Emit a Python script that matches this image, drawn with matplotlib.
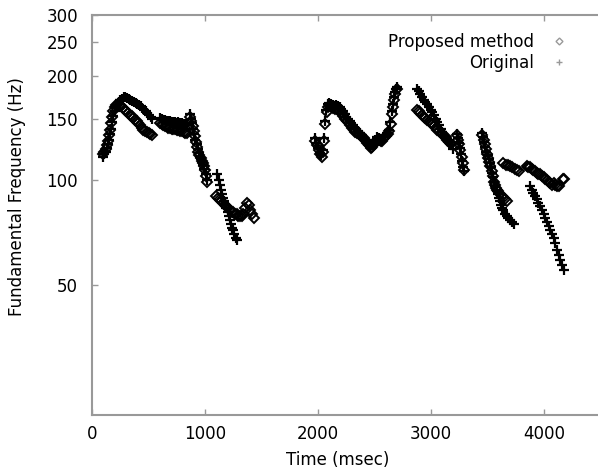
import matplotlib
matplotlib.use('Agg')
import matplotlib.pyplot as plt
from matplotlib.ticker import FixedLocator, NullLocator, FixedFormatter

# 原始 F0 轨迹 (Original, "+")
orig_time = [
    100, 110, 120, 130, 140, 150, 160, 170, 180, 190, 200, 210, 220, 235, 250, 265, 280, 295,
    310, 325, 340, 355, 370, 385, 400, 415, 430, 445, 460, 475, 490, 505, 520, 535,
    600, 615, 630, 645, 660, 675, 690, 705, 720, 735, 750, 765, 780, 795, 810, 825, 840,
    865, 875, 885, 895, 905, 915, 925, 935, 945, 955, 965, 975, 985, 995, 1005, 1015,
    1110, 1120, 1130, 1140, 1150, 1160, 1170, 1180, 1190, 1200, 1210, 1220, 1230, 1240,
    1250, 1260, 1270, 1280,
    1970, 1985, 2000, 2015, 2030, 2040, 2050, 2060, 2070, 2085, 2100, 2115, 2130, 2145,
    2160, 2175, 2190, 2205, 2220, 2235, 2250, 2265, 2280, 2295, 2310, 2325, 2340, 2355,
    2370, 2385, 2400, 2415, 2430, 2445, 2460, 2475, 2490, 2505, 2520, 2535, 2550, 2565,
    2580, 2595, 2610, 2625, 2640, 2650, 2660, 2670, 2680, 2690, 2700,
    2875, 2890, 2905, 2920, 2935, 2950, 2965, 2980, 2995, 3010, 3025, 3040, 3055, 3070,
    3085, 3100, 3115, 3130, 3145, 3160, 3175, 3190,
    3225, 3235, 3245, 3255, 3265, 3275, 3285, 3295,
    3450, 3460, 3470, 3480, 3490, 3500, 3510, 3520, 3530, 3540, 3550, 3560, 3570, 3580,
    3590, 3600, 3610, 3620, 3630, 3640, 3655, 3670, 3685, 3700, 3715, 3730,
    3875, 3890, 3905, 3920, 3935, 3950, 3965, 3980, 3995, 4010, 4025, 4040, 4055, 4070,
    4085, 4100, 4115, 4130, 4145, 4160, 4175,
]
orig_f0 = [
    117, 119, 121, 124, 127, 131, 136, 141, 147, 153, 158, 162, 165, 168, 171, 172, 174, 174,
    173, 172, 170, 169, 168, 167, 166, 165, 164, 162, 160, 158, 156, 154, 152, 150,
    151, 150, 149, 149, 148, 148, 148, 147, 147, 147, 146, 147, 146, 146, 145, 145, 144,
    155, 150, 146, 141, 136, 131, 127, 123, 120, 117, 115, 113, 111, 108, 104, 100,
    104, 100, 97, 94, 91, 89, 87, 85, 83, 81, 79, 77, 75, 73,
    72, 70, 68, 67,
    132, 128, 124, 120, 118, 122, 132, 148, 160, 166, 167, 166, 165, 164,
    165, 164, 163, 161, 158, 155, 152, 150, 148, 146, 144, 142, 141, 139,
    137, 135, 133, 131, 129, 127, 125, 126, 128, 131, 133, 132, 130, 131,
    133, 135, 137, 140, 147, 158, 166, 174, 180, 184, 186,
    184, 181, 177, 174, 171, 168, 166, 163, 160, 157, 154, 150, 147, 144,
    141, 138, 135, 133, 131, 129, 126, 123,
    136, 132, 128, 124, 119, 114, 109, 106,
    137, 133, 129, 125, 121, 118, 115, 112, 109, 105, 102, 99, 96, 93,
    91, 89, 87, 85, 83, 82, 80, 79, 78, 77, 76, 75,
    96, 94, 92, 90, 88, 86, 84, 82, 80, 78, 76, 74, 72, 70,
    68, 66, 63, 61, 59, 57, 55,
]

# 提出方法的 F0 轨迹 (Proposed method, 菱形)
prop_time = [
    100, 110, 120, 130, 140, 150, 160, 170, 180, 190, 200, 215, 230, 245, 260, 275, 290,
    305, 320, 335, 350, 365, 380, 395, 410, 425, 440, 455, 470, 485, 500, 515, 530,
    600, 615, 630, 645, 660, 675, 690, 705, 720, 735, 750, 765, 780, 795, 810, 825, 840,
    870, 880, 890, 900, 910, 920, 930, 940, 950, 960, 970, 980, 990, 1000, 1010, 1020,
    1100, 1115, 1130, 1145, 1160, 1175, 1190, 1205, 1220, 1235, 1250, 1265, 1280, 1295,
    1310, 1325, 1340, 1355, 1370, 1385, 1400, 1415, 1430,
    1975, 1990, 2005, 2020, 2035, 2045, 2055, 2065, 2075, 2090, 2105, 2120, 2135, 2150,
    2165, 2180, 2195, 2210, 2225, 2240, 2255, 2270, 2285, 2300, 2315, 2330, 2345, 2360,
    2375, 2390, 2405, 2420, 2435, 2450, 2465, 2480, 2495, 2510, 2525, 2540, 2555, 2570,
    2585, 2600, 2615, 2630, 2645, 2655, 2665, 2675, 2685, 2695,
    2875, 2890, 2905, 2920, 2935, 2950, 2965, 2980, 2995, 3010, 3025, 3040, 3055, 3070,
    3085, 3100, 3115, 3130, 3145, 3160, 3175,
    3230, 3240, 3250, 3260, 3270, 3280, 3290,
    3455, 3465, 3475, 3485, 3495, 3505, 3515, 3525, 3535, 3545, 3555, 3565, 3575, 3585,
    3595, 3610, 3625, 3640, 3655, 3670,
    3640, 3660, 3680, 3700, 3720, 3740, 3760, 3775,
    3845, 3860, 3875, 3890, 3905, 3920, 3935, 3950, 3965, 3980, 3995, 4010, 4025, 4040,
    4055, 4070, 4085, 4100, 4115, 4130, 4170, 4180,
]
prop_f0 = [
    119, 121, 123, 126, 130, 135, 140, 146, 152, 158, 163, 165, 166, 165, 164, 162, 160,
    158, 156, 154, 153, 151, 149, 148, 146, 144, 142, 140, 139, 138, 137, 136, 135,
    146, 145, 144, 143, 143, 142, 142, 141, 141, 141, 140, 140, 139, 139, 138, 137, 137,
    152, 148, 143, 139, 134, 129, 125, 121, 118, 116, 114, 112, 110, 107, 103, 99,
    90, 89, 88, 87, 86, 85, 84, 83, 82, 81, 81, 80, 80, 79,
    79, 79, 80, 83, 86, 85, 82, 80, 78,
    130, 126, 122, 119, 117, 121, 130, 145, 157, 163, 164, 163, 162, 161,
    161, 160, 158, 156, 153, 150, 148, 146, 144, 142, 140, 138, 137, 136,
    135, 133, 132, 130, 128, 126, 124, 125, 127, 129, 131, 131, 130, 130,
    132, 134, 136, 139, 145, 155, 163, 171, 178, 183,
    160, 158, 156, 154, 152, 151, 149, 148, 146, 145, 143, 142, 140, 139,
    137, 136, 134, 133, 131, 129, 127,
    135, 131, 127, 122, 117, 112, 107,
    135, 131, 127, 123, 119, 116, 113, 110, 106, 103, 99, 97, 95, 94,
    93, 91, 90, 89, 88, 87,
    112, 111, 111, 110, 109, 108, 107, 106,
    110, 109, 109, 108, 107, 106, 105, 104, 104, 103, 102, 101, 100, 99,
    98, 97, 98, 97, 96, 96, 101, 101,
]

y_ticks = [50, 100, 150, 200, 250, 300]
x_ticks = [0, 1000, 2000, 3000, 4000]

plt.rcParams['font.family'] = ['DejaVu Sans']
fig = plt.figure(figsize=(5.98, 4.69), dpi=100)
ax = fig.add_axes([92 / 598, 54 / 469, 512 / 598, 400 / 469])

ax.plot(prop_time, prop_f0, linestyle='none', marker='D', markersize=5,
        markerfacecolor='none', markeredgecolor='black', markeredgewidth=1.4,
        label='Proposed method')
ax.plot(orig_time, orig_f0, linestyle='none', marker='+', markersize=7,
        color='black', markeredgewidth=1.6, label='Original')

# 对数纵轴
ax.set_yscale('log')
ax.set_ylim(21, 300)
ax.set_xlim(0, 4530)
ax.yaxis.set_major_locator(FixedLocator(y_ticks))
ax.yaxis.set_major_formatter(FixedFormatter([str(v) for v in y_ticks]))
ax.yaxis.set_minor_locator(NullLocator())
ax.set_xticks(x_ticks)

for s in ax.spines.values():
    s.set_color('#999999')
    s.set_linewidth(1.5)
ax.tick_params(axis='both', which='major', direction='in', length=4, width=1,
               color='#999999', labelsize=12, top=True, right=True)
ax.tick_params(axis='y', pad=10)
ax.tick_params(axis='x', pad=7)

ax.set_xlabel('Time (msec)', fontsize=12)
ax.set_ylabel('Fundamental Frequency (Hz)', fontsize=12)
ax.xaxis.set_label_coords(246 / 512, -36 / 400)
ax.yaxis.set_label_coords(-66 / 512, 0.545)

leg = fig.legend(loc='upper right', bbox_to_anchor=(571 / 598, 1 - 33 / 469),
                 frameon=False, markerfirst=False, fontsize=12, handlelength=1.4,
                 handletextpad=0.8, labelspacing=0.2, borderpad=0, borderaxespad=0,
                 markerscale=0.7)
for h in leg.legend_handles:
    h.set_color('#999999')
    h.set_markeredgecolor('#999999')
    h.set_markeredgewidth(1.0)

fig.savefig('out.png', dpi=100)
